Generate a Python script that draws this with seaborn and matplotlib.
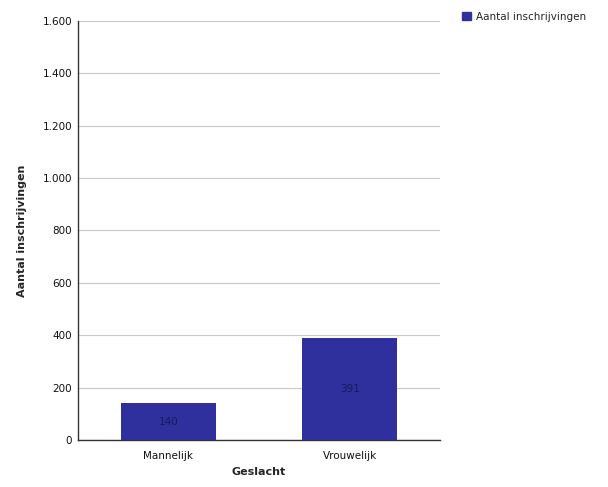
import matplotlib
matplotlib.use("Agg")
import matplotlib.pyplot as plt
import seaborn as sns
import pandas as pd
from matplotlib.patches import Patch

categories = ["Mannelijk", "Vrouwelijk"]
values = [140, 391]
yticks = [0, 200, 400, 600, 800, 1000, 1200, 1400, 1600]
ytick_labels = ["0", "200", "400", "600", "800", "1.000", "1.200", "1.400", "1.600"]
series_name = "Aantal inschrijvingen"

df = pd.DataFrame({"Geslacht": categories, series_name: values})

sns.set_style("white")
plt.rcParams["font.family"] = ["DejaVu Sans"]

bar_color = "#2f2f9e"

fig = plt.figure(figsize=(6.08, 4.87), dpi=100)
ax = fig.add_axes([0.128, 0.0965, 0.596, 0.861])

sns.barplot(data=df, x="Geslacht", y=series_name, color=bar_color,
            width=0.52, saturation=1, linewidth=0, ax=ax, zorder=3)

ax.set_ylim(0, 1600)
ax.set_yticks(yticks)
ax.set_yticklabels(ytick_labels, fontsize=7.5, color="#111111")
ax.tick_params(axis="x", labelsize=7.5, colors="#111111", length=0, pad=8)
ax.tick_params(axis="y", length=0, pad=4)
ax.grid(axis="y", color="#c8c8c8", linewidth=0.8, zorder=0)

for side in ["top", "right"]:
    ax.spines[side].set_visible(False)
ax.spines["left"].set_color("#333333")
ax.spines["bottom"].set_color("#333333")
ax.spines["left"].set_linewidth(1.0)
ax.spines["bottom"].set_linewidth(1.0)

ax.set_xlabel("Geslacht", fontsize=8, fontweight="bold", labelpad=4)
ax.set_ylabel(series_name, fontsize=8, fontweight="bold", labelpad=11)

for i, v in enumerate(values):
    ax.text(i, v / 2, str(v), ha="center", va="center", fontsize=7.5,
            color="#1a1a5a", zorder=4)

handle = Patch(facecolor=bar_color, edgecolor=bar_color)
fig.legend([handle], [series_name], loc="upper left",
           bbox_to_anchor=(0.745, 0.995), frameon=False, fontsize=7.5,
           handlelength=0.8, handleheight=0.8, handletextpad=0.5)

fig.savefig("out.png", dpi=100, facecolor="white")
